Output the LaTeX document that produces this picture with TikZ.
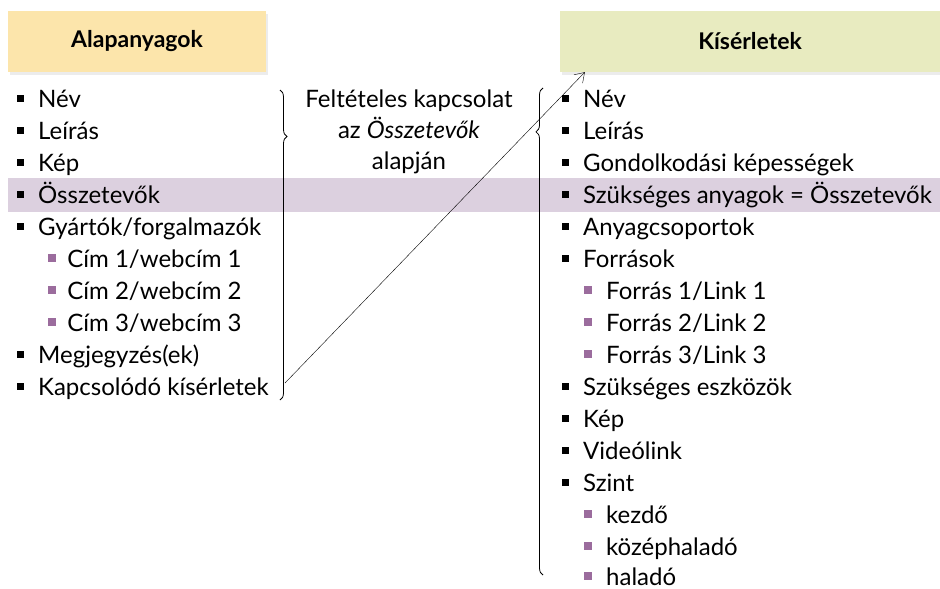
\documentclass[tikz,border=0pt]{standalone}
\usepackage{fontspec}
\setmainfont{Lato}
\usetikzlibrary{positioning,shadows,arrows.meta,decorations.pathreplacing}
\definecolor{headyellow}{HTML}{FCE5AB}
\definecolor{headgreen}{HTML}{E8EBC0}
\definecolor{bandpurple}{HTML}{DCD0DF}
\definecolor{bulletpurple}{HTML}{9B6C9D}
\newcommand{\blk}{\rule[5.5pt]{7pt}{7pt}\hspace{14pt}}
\newcommand{\prp}[1][14pt]{\textcolor{bulletpurple}{\rule[5.5pt]{8pt}{8pt}}\hspace{#1}}
\tikzset{
  head/.style={rectangle,minimum height=61pt,font=\bfseries\fontsize{23}{27}\selectfont,
    drop shadow={opacity=0.15,shadow xshift=2pt,shadow yshift=-3pt}},
  item/.style={anchor=west,inner sep=0pt,text height=18pt,text depth=4pt,
    font=\fontsize{24}{28}\selectfont},
  brc/.style={decorate,thick,decoration={brace,amplitude=7pt}}
}
\begin{document}
\begin{tikzpicture}[x=1pt,y=-1pt]
\useasboundingbox (0,0) rectangle (940,589);
% band behind the matching rows
\fill[bandpurple] (8,178) rectangle (940,212);
\node [head,fill=headyellow,minimum width=258pt] (ala) at (137,41.5) {Alapanyagok};
\node [head,fill=headgreen,minimum width=380pt] (kis) at (750,41.5) {Kísérletek};
% left list
\node [item] (a1) at (17,100) {\blk Név};
\node [item] (a2) at (17,132) {\blk Leírás};
\node [item] (a3) at (17,164) {\blk Kép};
\node [item] (a4) at (17,196) {\blk Összetevők};
\node [item] (a5) at (17,228) {\blk Gyártók/forgalmazók};
\node [item] (a6) at (48,260) {\prp[5pt] Cím 1/webcím 1};
\node [item] (a7) at (48,292) {\prp[5pt] Cím 2/webcím 2};
\node [item] (a8) at (48,324) {\prp[5pt] Cím 3/webcím 3};
\node [item] (a9) at (17,356) {\blk Megjegyzés(ek)};
\node [item] (a10) at (17,388) {\blk Kapcsolódó kísérletek};
% middle note
\node [align=center,font=\fontsize{24}{31}\selectfont] (felt) at (409,132)
  {Feltételes kapcsolat\\az \textit{Összetevők}\\alapján};
% right list
\node [item] (k1) at (562,100) {\blk Név};
\node [item] (k2) at (562,132) {\blk Leírás};
\node [item] (k3) at (562,164) {\blk Gondolkodási képességek};
\node [item] (k4) at (562,196) {\blk Szükséges anyagok = Összetevők};
\node [item] (k5) at (562,228) {\blk Anyagcsoportok};
\node [item] (k6) at (562,260) {\blk Források};
\node [item] (k7) at (584,292) {\prp Forrás 1/Link 1};
\node [item] (k8) at (584,324) {\prp Forrás 2/Link 2};
\node [item] (k9) at (584,356) {\prp Forrás 3/Link 3};
\node [item] (k10) at (562,388) {\blk Szükséges eszközök};
\node [item] (k11) at (562,420) {\blk Kép};
\node [item] (k12) at (562,452) {\blk Videólink};
\node [item] (k13) at (562,484) {\blk Szint};
\node [item] (k14) at (584,516) {\prp kezdő};
\node [item] (k15) at (584,548) {\prp középhaladó};
\node [item] (k16) at (584,578) {\prp haladó};
% braces
\draw [brc,decoration={aspect=0.15}] (280,90) -- (280,400);
\draw [brc,decoration={aspect=0.91}] (543,575) -- (543,88);
\coordinate (s) at (285,383);
\draw [-{Straight Barb[length=9pt,width=12pt]}] (s) -- ([xshift=25pt]kis.south west);
\end{tikzpicture}
\end{document}
